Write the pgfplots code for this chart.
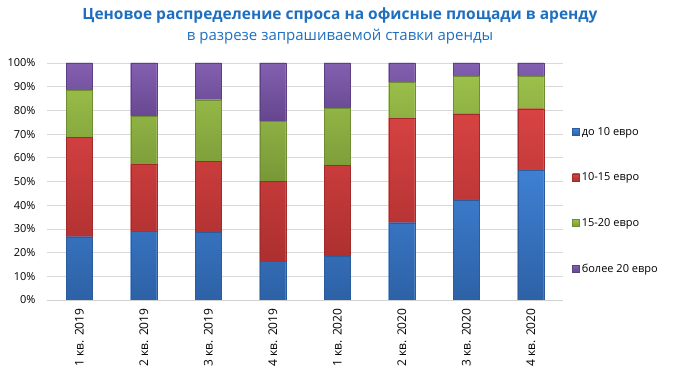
\documentclass[border=0pt]{standalone}
\usepackage{pgfplots}
\pgfplotsset{compat=1.18}
\usepackage{fontspec}
\setmainfont{Open Sans}
\definecolor{ttl}{HTML}{1F6FC0}
\definecolor{bA}{HTML}{3F80D3}\definecolor{bAd}{HTML}{2A5C9E}
\definecolor{rA}{HTML}{D84343}\definecolor{rAd}{HTML}{A22A2A}
\definecolor{gA}{HTML}{9CC04A}\definecolor{gAd}{HTML}{6F8E33}
\definecolor{pA}{HTML}{8360B0}\definecolor{pAd}{HTML}{5C3F85}
\begin{document}
\begin{tikzpicture}[x=1pt,y=1pt]
\useasboundingbox (0,0) rectangle (677,375);
\node[font=\bfseries\fontsize{15.5}{18}\selectfont, text=ttl] at (340,360) {Ценовое распределение спроса на офисные площади в аренду};
\node[font=\fontsize{15}{18}\selectfont, text=ttl] at (340,338) {в разрезе запрашиваемой ставки аренды};
\begin{axis}[
  at={(47pt,75pt)}, anchor=south west, scale only axis,
  width=516pt, height=237pt,
  ybar stacked, bar width=26pt,
  xmin=-0.5, xmax=7.5, ymin=0, ymax=100,
  xtick={0,...,7},
  xticklabels={1 кв. 2019,2 кв. 2019,3 кв. 2019,4 кв. 2019,1 кв. 2020,2 кв. 2020,3 кв. 2020,4 кв. 2020},
  x tick label style={rotate=90, anchor=east, font=\fontsize{12}{14}\selectfont},
  xticklabel shift=5pt,
  ytick={0,10,...,100},
  yticklabel={\pgfmathprintnumber{\tick}\%},
  /pgf/number format/assume math mode=true,
  y tick label style={font=\fontsize{11}{13}\selectfont},
  yticklabel shift=8pt,
  ymajorgrids, grid style={draw=black!15, line width=0.8pt},
  major tick length=0pt,
  axis line style={draw=none},
  axis x line*=bottom, axis y line*=left,
  clip=false,
  legend style={at={(rel axis cs:1.012,0.42)}, anchor=west, draw=none, fill=none,
    font=\fontsize{11}{13}\selectfont, row sep=32pt, legend cell align=left},
  legend image code/.code={\fill[#1] (0pt,-3.5pt) rectangle (7pt,3.5pt);},
]
\draw[black!18, line width=0.8pt] (axis cs:-0.5,0) -- (axis cs:7.5,0);
\addplot[draw=bAd, top color=bA, bottom color=bAd!85!bA, fill=bA] coordinates {(0,26.7)(1,29.1)(2,28.4)(3,16.2)(4,18.4)(5,32.6)(6,42.2)(7,54.9)};
\addplot[draw=rAd, top color=rA, bottom color=rAd!80!rA, fill=rA] coordinates {(0,41.8)(1,28.1)(2,30.0)(3,34.0)(4,38.4)(5,44.1)(6,36.3)(7,25.8)};
\addplot[draw=gAd, top color=gA, bottom color=gAd!80!gA, fill=gA] coordinates {(0,20.1)(1,20.4)(2,26.1)(3,25.3)(4,24.2)(5,15.0)(6,15.9)(7,13.7)};
\addplot[draw=pAd, top color=pA, bottom color=pAd!80!pA, fill=pA] coordinates {(0,11.4)(1,22.4)(2,15.5)(3,24.5)(4,19.0)(5,8.3)(6,5.6)(7,5.6)};
\legend{до 10 евро,10-15 евро,15-20 евро,более 20 евро}
\end{axis}
\end{tikzpicture}
\end{document}
